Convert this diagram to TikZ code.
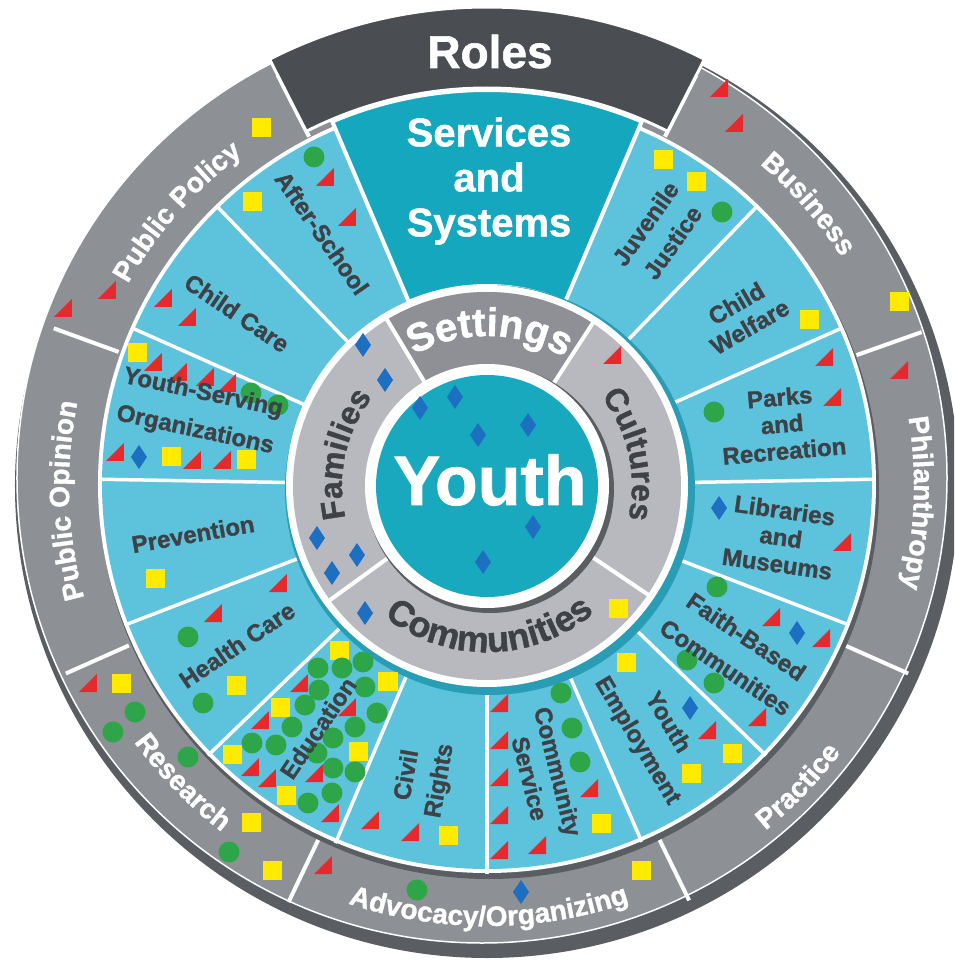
\documentclass[tikz,border=0pt]{standalone}
\usepackage{fontspec}
\setmainfont{Liberation Sans}[BoldFeatures={FakeBold=1.2}]
\usepackage{tikz}
\usetikzlibrary{decorations.text}

\definecolor{rolegray}{HTML}{8D9095}
\definecolor{rimdark}{HTML}{5A5D62}
\definecolor{rolesdark}{HTML}{4A4D51}
\definecolor{ringblue}{HTML}{5DC3DC}
\definecolor{tealtab}{HTML}{14A7BD}
\definecolor{youthteal}{HTML}{18A9BF}
\definecolor{tealshadow}{HTML}{2A9DB6}
\definecolor{setgray}{HTML}{B8B9BF}
\definecolor{settab}{HTML}{8E9095}
\definecolor{labgray}{HTML}{3E4146}
\definecolor{mkred}{HTML}{E52A2D}
\definecolor{mkyellow}{HTML}{FFEA00}
\definecolor{mkgreen}{HTML}{2FA549}
\definecolor{mkblue}{HTML}{1D6FC2}

\newcommand\rolefont{\fontsize{28}{30}\selectfont\bfseries}
\newcommand\ringfont{\fontsize{32}{34}\selectfont\bfseries}
\newcommand\segfont{\fontsize{24}{27}\selectfont\bfseries}

\tikzset{
	ysq/.style={fill=mkyellow, minimum size=19pt, inner sep=0pt},
	gdot/.style={circle, fill=mkgreen, minimum size=21pt, inner sep=0pt},
	rtri/.pic={\fill[mkred] (-9pt,-9pt) -- (9pt,-9pt) -- (9pt,9pt) -- cycle;},
	bdia/.pic={\fill[mkblue] (0pt,-12pt) -- (8pt,0pt) -- (0pt,12pt) -- (-8pt,0pt) -- cycle;},
	seglab/.style={text=labgray, font=\segfont, align=center, inner sep=0pt},
	roletext/.style={decorate, decoration={text along path, text align=center, text color=white, text={|\rolefont|#1}}},
	ringtext/.style={decorate, decoration={text along path, text align=center, text color=labgray, text={|\ringfont|#1}}},
	sep/.style={white, line width=3.5pt}
}

\begin{document}
\begin{tikzpicture}[x=1pt, y=1pt]
			\useasboundingbox (-487,-477) rectangle (467,486);
			\clip (-487,-477) rectangle (467,486);

			% roles ring
			\fill[rimdark] (0,0) circle[radius=472pt];
			\filldraw[fill=rolegray, draw=white, line width=1.5pt] (-5,8) circle[radius=465pt];
			\foreach \a in {117,160,204,244.5,296,336,379.5,423}
				\draw[sep, line width=4pt] (\a:392pt) -- (\a:461pt);
			\filldraw[fill=rolesdark, draw=white, line width=3pt] (63:398pt) arc[start angle=63, end angle=117, radius=398pt] -- (117:479pt) arc[start angle=117, end angle=63, radius=479pt] -- cycle;

			% services ring
			\fill[rimdark] (2,-3) circle[radius=390pt];
			\fill[white] (0,2) circle[radius=389pt];
			\fill[ringblue] (0,2) circle[radius=385pt];
			\filldraw[fill=tealtab, draw=white, line width=4pt] (67:200pt) arc[start angle=67, end angle=113, radius=200pt] -- (113:396pt) arc[start angle=113, end angle=67, radius=396pt] -- cycle;
			\foreach \a in {134,156,179,201,224,247,270,293.5,316,339,361,384,406}
				\draw[sep] (\a:200pt) -- (\a:388pt);

			% settings ring
			\fill[tealshadow] (3,-4) circle[radius=205pt];
			\fill[white] (0,0) circle[radius=201pt];
			\fill[setgray] (0,0) circle[radius=194pt];
			\fill[settab] (57:115pt) arc[start angle=57, end angle=121, radius=115pt] -- (121:194pt) arc[start angle=121, end angle=57, radius=194pt] -- cycle;
			\foreach \a in {57,121,216,326}
				\draw[sep, line width=4pt] (\a:118pt) -- (\a:198pt);

			% youth
			\fill[rimdark] (3,-3) circle[radius=124pt];
			\fill[white] (0,0) circle[radius=122pt];
			\fill[youthteal] (0,0) circle[radius=111pt];

			% markers
			\foreach \x/\y in {262/128,253/202,138/353,172/457,247/460,663/160,696/182,809/320,899/302,618/608,626/662,732/753,691/773,601/823,641/870,448/835,122/683,252/822,273/870,156/578,237/685,340/650,388/681,281/707,233/754,359/751,287/795}
				\node[ysq] at (\x-487,486-\y) {};
			\foreach \x/\y in {314/157,251/393,278/405,722/212,714/412,717/587,687/660,714/683,561/693,572/728,580/762,417/890,135/712,113/732,188/757,229/852,188/637,203/703,318/668,342/668,363/662,319/690,365/687,305/705,377/713,292/727,355/727,252/743,276/745,333/738,317/753,333/768,355/772,332/793,308/803}
				\node[gdot] at (\x-487,486-\y) {};
			\foreach \x/\y in {63/308,107/290,325/177,347/217,163/298,187/317,153/362,178/372,205/377,227/383,115/452,192/460,222/460,612/355,719/88,734/123,824/357,832/397,899/370,842/542,771/617,821/638,757/717,707/730,589/788,537/845,499/703,499/740,499/777,499/815,499/850,370/820,410/832,323/865,88/683,278/583,213/613,299/683,260/720,347/707,250/767,267/778,314/773,330/813}
				\pic at (\x-487,486-\y) {rtri};
			\foreach \x/\y in {363/345,385/380,317/538,357/555,332/573,420/408,455/397,478/435,528/425,533/527,483/562,365/613,139/457,719/508,797/633,690/708,521/892}
				\pic at (\x-487,486-\y) {bdia};

			% labels
			\node[white, font=\fontsize{46}{50}\selectfont\bfseries, anchor=base] (roles) at (3,418) {Roles};
			\node[white, font=\fontsize{40}{45}\selectfont\bfseries, align=center, inner sep=0pt] (services) at (2,305) {Services\\and\\Systems};
			\node[white, font=\fontsize{70}{70}\selectfont\bfseries, anchor=base] (youth) at (3,-19) {Youth};

			\path[roletext=Public Policy] (160:412pt) arc[start angle=160, end angle=117, radius=412pt];
			\path[roletext=Public Opinion] (204:418pt) arc[start angle=204, end angle=160, radius=418pt];
			\path[roletext=Business] (63:422pt) arc[start angle=63, end angle=19.5, radius=422pt];
			\path[roletext=Philanthropy] (19.5:427pt) arc[start angle=19.5, end angle=-24, radius=427pt];
			\path[roletext=Research] (204:436pt) arc[start angle=204, end angle=244.5, radius=436pt];
			\path[roletext=Advocacy/Organizing] (244.5:440pt) arc[start angle=244.5, end angle=296, radius=440pt];
			\path[roletext=Practice] (296:443pt) arc[start angle=296, end angle=336, radius=443pt];

			\path[decorate, decoration={text along path, text align=center, text color=white, text={|\fontsize{40}{42}\selectfont\bfseries|Settings}}] (140:150pt) arc[start angle=140, end angle=38, radius=150pt];
			\path[ringtext=Families] (216:145pt) arc[start angle=216, end angle=119, radius=145pt];
			\path[ringtext=Cultures] (60:145pt) arc[start angle=60, end angle=-35, radius=145pt];
			\path[decorate, decoration={text along path, text align=center, text color=labgray, text={|\fontsize{36}{38}\selectfont\bfseries|Communities}}] (210:166pt) arc[start angle=210, end angle=332, radius=166pt];

			\node[seglab, rotate=-55] (afterschool) at (-165,253) {After-School};
			\node[seglab, rotate=-34] (childcare) at (-250,173) {Child Care};
			\node[seglab, rotate=-12] (yso) at (-288,74) {Youth-Serving\\[11pt]Organizations};
			\node[seglab, rotate=10] (prevention) at (-294,-48) {Prevention};
			\node[seglab, rotate=34] (health) at (-250,-159) {Health Care};
			\node[seglab, rotate=56] (education) at (-169,-242) {Education};
			\node[seglab, rotate=80] (civil) at (-63,-292) {Civil\\[6pt]Rights};
			\node[seglab, rotate=-76] (service) at (57,-289) {Community\\[2pt]Service};
			\node[seglab, rotate=-59] (employment) at (165,-246) {Youth\\[8pt]Employment};
			\node[seglab, rotate=-34] (faith) at (249,-166) {Faith-Based\\[10pt]Communities};
			\node[seglab, rotate=-8] (libraries) at (294,-51) {Libraries\\and\\Museums};
			\node[seglab, rotate=5] (parks) at (295,62) {Parks\\and\\Recreation};
			\node[seglab, rotate=30] (welfare) at (256,171) {Child\\Welfare};
			\node[seglab, rotate=55] (juvenile) at (172,253) {Juvenile\\[6pt]Justice};
		\end{tikzpicture}
\end{document}
